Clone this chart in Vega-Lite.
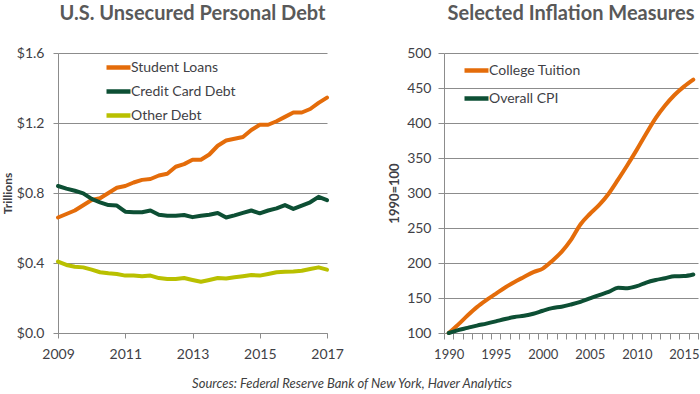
{
  "$schema": "https://vega.github.io/schema/vega-lite/v6.json",
  "padding": {"left": 1, "top": 4, "right": 0, "bottom": 2},
  "background": "white",
  "config": {
    "view": {"stroke": null},
    "font": "Lato",
    "axis": {"gridColor": "#8c8c8c", "domainColor": "#8c8c8c", "tickColor": "#8c8c8c", "labelColor": "#3f3f46", "labelFontSize": 14, "titleColor": "#3f3f46", "labelFont": "Lato", "titleFont": "Lato"},
    "title": {"font": "Lato", "fontSize": 20, "fontWeight": "bold", "color": "#595959", "offset": 22},
    "legend": {"labelFont": "Lato", "labelFontSize": 14, "labelColor": "#3f3f46"}
  },
  "title": {"text": "Sources: Federal Reserve Bank of New York,  Haver Analytics", "orient": "bottom", "anchor": "middle", "fontSize": 13, "fontStyle": "italic", "fontWeight": "normal", "color": "#404040", "offset": 17},
  "spacing": 44,
  "resolve": {"scale": {"color": "independent", "x": "independent", "y": "independent"}, "legend": {"color": "independent"}},
  "hconcat": [
    {
      "title": {"text": "U.S. Unsecured Personal Debt"},
      "width": 269,
      "height": 280,
      "data": {"values": [
        {"t": 2009.00, "Student Loans": 0.66, "Credit Card Debt": 0.840, "Other Debt": 0.408},
        {"t": 2009.25, "Student Loans": 0.68, "Credit Card Debt": 0.825, "Other Debt": 0.389},
        {"t": 2009.50, "Student Loans": 0.70, "Credit Card Debt": 0.813, "Other Debt": 0.379},
        {"t": 2009.75, "Student Loans": 0.73, "Credit Card Debt": 0.798, "Other Debt": 0.375},
        {"t": 2010.00, "Student Loans": 0.76, "Credit Card Debt": 0.766, "Other Debt": 0.362},
        {"t": 2010.25, "Student Loans": 0.77, "Credit Card Debt": 0.747, "Other Debt": 0.347},
        {"t": 2010.50, "Student Loans": 0.80, "Credit Card Debt": 0.731, "Other Debt": 0.341},
        {"t": 2010.75, "Student Loans": 0.83, "Credit Card Debt": 0.728, "Other Debt": 0.337},
        {"t": 2011.00, "Student Loans": 0.84, "Credit Card Debt": 0.693, "Other Debt": 0.328},
        {"t": 2011.25, "Student Loans": 0.86, "Credit Card Debt": 0.690, "Other Debt": 0.328},
        {"t": 2011.50, "Student Loans": 0.875, "Credit Card Debt": 0.690, "Other Debt": 0.324},
        {"t": 2011.75, "Student Loans": 0.88, "Credit Card Debt": 0.700, "Other Debt": 0.328},
        {"t": 2012.00, "Student Loans": 0.90, "Credit Card Debt": 0.676, "Other Debt": 0.314},
        {"t": 2012.25, "Student Loans": 0.91, "Credit Card Debt": 0.670, "Other Debt": 0.309},
        {"t": 2012.50, "Student Loans": 0.95, "Credit Card Debt": 0.670, "Other Debt": 0.309},
        {"t": 2012.75, "Student Loans": 0.965, "Credit Card Debt": 0.674, "Other Debt": 0.314},
        {"t": 2013.00, "Student Loans": 0.99, "Credit Card Debt": 0.662, "Other Debt": 0.303},
        {"t": 2013.25, "Student Loans": 0.99, "Credit Card Debt": 0.670, "Other Debt": 0.293},
        {"t": 2013.50, "Student Loans": 1.02, "Credit Card Debt": 0.676, "Other Debt": 0.303},
        {"t": 2013.75, "Student Loans": 1.07, "Credit Card Debt": 0.686, "Other Debt": 0.314},
        {"t": 2014.00, "Student Loans": 1.10, "Credit Card Debt": 0.660, "Other Debt": 0.312},
        {"t": 2014.25, "Student Loans": 1.11, "Credit Card Debt": 0.672, "Other Debt": 0.318},
        {"t": 2014.50, "Student Loans": 1.12, "Credit Card Debt": 0.686, "Other Debt": 0.324},
        {"t": 2014.75, "Student Loans": 1.16, "Credit Card Debt": 0.700, "Other Debt": 0.331},
        {"t": 2015.00, "Student Loans": 1.19, "Credit Card Debt": 0.684, "Other Debt": 0.328},
        {"t": 2015.25, "Student Loans": 1.19, "Credit Card Debt": 0.700, "Other Debt": 0.337},
        {"t": 2015.50, "Student Loans": 1.21, "Credit Card Debt": 0.712, "Other Debt": 0.347},
        {"t": 2015.75, "Student Loans": 1.235, "Credit Card Debt": 0.731, "Other Debt": 0.350},
        {"t": 2016.00, "Student Loans": 1.26, "Credit Card Debt": 0.709, "Other Debt": 0.352},
        {"t": 2016.25, "Student Loans": 1.26, "Credit Card Debt": 0.728, "Other Debt": 0.356},
        {"t": 2016.50, "Student Loans": 1.28, "Credit Card Debt": 0.747, "Other Debt": 0.366},
        {"t": 2016.75, "Student Loans": 1.315, "Credit Card Debt": 0.778, "Other Debt": 0.375},
        {"t": 2017.00, "Student Loans": 1.345, "Credit Card Debt": 0.759, "Other Debt": 0.362}
      ]},
      "transform": [{"fold": ["Student Loans", "Credit Card Debt", "Other Debt"], "as": ["series", "value"]}],
      "mark": {"type": "line", "strokeWidth": 4, "strokeCap": "round", "strokeJoin": "round"},
      "encoding": {
        "x": {"field": "t", "type": "quantitative", "scale": {"domain": [2009, 2017], "nice": false, "zero": false},
          "axis": {"values": [2009, 2011, 2013, 2015, 2017], "format": "d", "title": null, "grid": false, "tickSize": 5, "labelPadding": 9, "labelFlush": false}},
        "y": {"field": "value", "type": "quantitative", "scale": {"domain": [0, 1.6], "nice": false},
          "axis": {"values": [0, 0.4, 0.8, 1.2, 1.6], "format": "$.1f", "title": "Trillions", "titleFontSize": 12, "titleFontWeight": "bold", "titlePadding": 2, "grid": true, "tickSize": 5, "labelPadding": 9}},
        "color": {"field": "series", "type": "nominal",
          "scale": {"domain": ["Student Loans", "Credit Card Debt", "Other Debt"], "range": ["#e46c0a", "#0d4f34", "#b9c000"]},
          "legend": {"title": null, "orient": "none", "legendX": 46, "legendY": 0, "symbolType": "stroke", "symbolSize": 576, "symbolStrokeWidth": 4.5, "rowPadding": -3, "labelOffset": -2}}
      }
    },
    {
      "title": {"text": "Selected Inflation Measures"},
      "width": 254,
      "height": 280,
      "data": {"values": [
        {"year": 1990, "College Tuition": 100, "Overall CPI": 100},
        {"year": 1991, "College Tuition": 112, "Overall CPI": 104.2},
        {"year": 1992, "College Tuition": 125, "Overall CPI": 107.3},
        {"year": 1993, "College Tuition": 137, "Overall CPI": 110.6},
        {"year": 1994, "College Tuition": 147, "Overall CPI": 113.4},
        {"year": 1995, "College Tuition": 156, "Overall CPI": 116.6},
        {"year": 1996, "College Tuition": 165, "Overall CPI": 120.0},
        {"year": 1997, "College Tuition": 173, "Overall CPI": 122.8},
        {"year": 1998, "College Tuition": 180, "Overall CPI": 124.7},
        {"year": 1999, "College Tuition": 187, "Overall CPI": 127.5},
        {"year": 2000, "College Tuition": 192, "Overall CPI": 131.8},
        {"year": 2001, "College Tuition": 203, "Overall CPI": 135.5},
        {"year": 2002, "College Tuition": 216, "Overall CPI": 137.6},
        {"year": 2003, "College Tuition": 233, "Overall CPI": 140.8},
        {"year": 2004, "College Tuition": 255, "Overall CPI": 144.5},
        {"year": 2005, "College Tuition": 270, "Overall CPI": 149.4},
        {"year": 2006, "College Tuition": 283, "Overall CPI": 154.2},
        {"year": 2007, "College Tuition": 299, "Overall CPI": 158.6},
        {"year": 2008, "College Tuition": 319, "Overall CPI": 164.7},
        {"year": 2009, "College Tuition": 340, "Overall CPI": 164.1},
        {"year": 2010, "College Tuition": 362, "Overall CPI": 166.9},
        {"year": 2011, "College Tuition": 385, "Overall CPI": 172.1},
        {"year": 2012, "College Tuition": 407, "Overall CPI": 175.7},
        {"year": 2013, "College Tuition": 425, "Overall CPI": 178.3},
        {"year": 2014, "College Tuition": 440, "Overall CPI": 181.1},
        {"year": 2015, "College Tuition": 452, "Overall CPI": 181.3},
        {"year": 2016, "College Tuition": 462, "Overall CPI": 183.6}
      ]},
      "transform": [{"fold": ["College Tuition", "Overall CPI"], "as": ["series", "value"]}],
      "mark": {"type": "line", "strokeWidth": 4, "strokeCap": "round", "strokeJoin": "round", "interpolate": "monotone"},
      "encoding": {
        "x": {"field": "year", "type": "quantitative", "scale": {"domain": [1989.5, 2016.5], "nice": false, "zero": false},
          "axis": {"values": [1989.5, 1990.5, 1991.5, 1992.5, 1993.5, 1994.5, 1995.5, 1996.5, 1997.5, 1998.5, 1999.5, 2000.5, 2001.5, 2002.5, 2003.5, 2004.5, 2005.5, 2006.5, 2007.5, 2008.5, 2009.5, 2010.5, 2011.5, 2012.5, 2013.5, 2014.5, 2015.5, 2016.5],
            "labelExpr": "(datum.value + 0.5) % 5 == 0 ? format(datum.value + 0.5, 'd') : ''", "labelOffset": 4.7, "labelOverlap": false, "labelFlush": false, "labelFontSize": 13, "title": null, "grid": false, "tickSize": 6, "labelPadding": 9}},
        "y": {"field": "value", "type": "quantitative", "scale": {"domain": [100, 500], "nice": false, "zero": false},
          "axis": {"values": [100, 150, 200, 250, 300, 350, 400, 450, 500], "title": "1990=100", "titleFontSize": 13, "titleFontWeight": "bold", "titlePadding": 5, "grid": true, "tickSize": 6, "labelPadding": 7}},
        "color": {"field": "series", "type": "nominal",
          "scale": {"domain": ["College Tuition", "Overall CPI"], "range": ["#e46c0a", "#0d4f34"]},
          "legend": {"title": null, "orient": "none", "legendX": 18, "legendY": 3, "symbolType": "stroke", "symbolSize": 576, "symbolStrokeWidth": 4.5, "rowPadding": 4, "labelOffset": -2}}
      }
    }
  ]
}
